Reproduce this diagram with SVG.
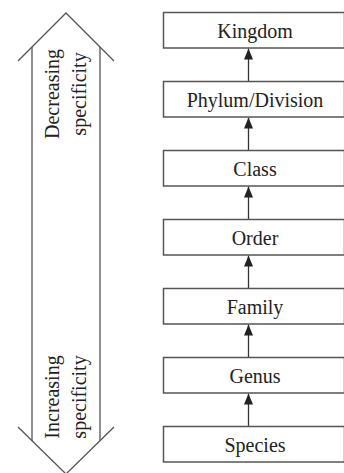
<svg xmlns="http://www.w3.org/2000/svg" width="344" height="473" viewBox="0 0 344 473">
<style>
.box{fill:#fff;stroke:#555;stroke-width:1.5}
.lbl{font-family:"Liberation Serif","Times New Roman",serif;font-size:20px;fill:#222;text-anchor:middle}
.con{stroke:#333;stroke-width:1.3;fill:none}
.big{stroke:#555;stroke-width:1.3;fill:none}
</style>
<defs>
<marker id="ah" markerUnits="userSpaceOnUse" markerWidth="12" markerHeight="10" viewBox="0 0 12 10" refX="11" refY="5" orient="auto">
<path d="M0,0.5 L11,5 L0,9.5 Z" fill="#222"/>
</marker>
</defs>
<rect width="344" height="473" fill="#fff"/>
<g id="scale">
<path class="big" d="M18,61 L66,13 L114,61"/>
<path class="big" d="M32,47 L32,441 M100,47 L100,441"/>
<path class="big" d="M18,427 L66,474 L114,427"/>
<text class="lbl" transform="translate(58.5,94) rotate(-90)">Decreasing</text>
<text class="lbl" transform="translate(85.5,94) rotate(-90)">specificity</text>
<text class="lbl" transform="translate(58.5,397) rotate(-90)">Increasing</text>
<text class="lbl" transform="translate(85.5,397) rotate(-90)">specificity</text>
</g>
<g id="connectors">
<line class="con" x1="248.5" y1="81.5" x2="248.5" y2="48.5" marker-end="url(#ah)"/>
<line class="con" x1="248.5" y1="150.5" x2="248.5" y2="117.5" marker-end="url(#ah)"/>
<line class="con" x1="248.5" y1="219.5" x2="248.5" y2="186.5" marker-end="url(#ah)"/>
<line class="con" x1="248.5" y1="288.5" x2="248.5" y2="255.5" marker-end="url(#ah)"/>
<line class="con" x1="248.5" y1="357.5" x2="248.5" y2="324.5" marker-end="url(#ah)"/>
<line class="con" x1="248.5" y1="426.5" x2="248.5" y2="393.5" marker-end="url(#ah)"/>
</g>
<g id="kingdom"><rect class="box" x="163.5" y="12.5" width="181" height="35.5"/><text class="lbl" x="255" y="38">Kingdom</text></g>
<g id="phylum"><rect class="box" x="163.5" y="81.5" width="181" height="35.5"/><text class="lbl" x="255" y="107">Phylum/Division</text></g>
<g id="class"><rect class="box" x="163.5" y="150.5" width="181" height="35.5"/><text class="lbl" x="255" y="176">Class</text></g>
<g id="order"><rect class="box" x="163.5" y="219.5" width="181" height="35.5"/><text class="lbl" x="255" y="245">Order</text></g>
<g id="family"><rect class="box" x="163.5" y="288.5" width="181" height="35.5"/><text class="lbl" x="255" y="314">Family</text></g>
<g id="genus"><rect class="box" x="163.5" y="357.5" width="181" height="35.5"/><text class="lbl" x="255" y="383">Genus</text></g>
<g id="species"><rect class="box" x="163.5" y="426.5" width="181" height="35.5"/><text class="lbl" x="255" y="452">Species</text></g>
</svg>
